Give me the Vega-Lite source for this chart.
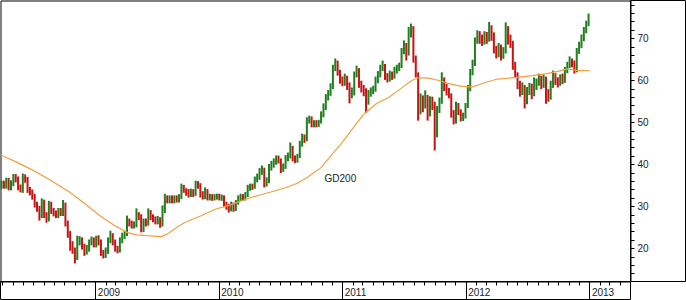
{
"$schema": "https://vega.github.io/schema/vega-lite/v6.json",
"width": 630, "height": 281,
"autosize": {"type": "none"},
"padding": {"left": 0.5, "top": 0.5, "right": 55.5, "bottom": 18.5},
"background": "white",
"config": {
  "view": {"stroke": "#000", "strokeWidth": 1},
  "axis": {"translate": 0, "domainColor": "#000", "tickColor": "#000", "labelFont": "Liberation Sans", "labelFontSize": 10, "labelColor": "#222", "grid": false, "title": null, "labelOverlap": false, "labelFlush": false}
},
"datasets": {
"px": [
{"d":"2008-03-28","o":35.0,"h":36.2,"l":34.3,"c":35.5},
{"d":"2008-04-04","o":35.5,"h":36.2,"l":34.3,"c":35.0},
{"d":"2008-04-11","o":35.0,"h":36.9,"l":34.3,"c":36.2},
{"d":"2008-04-18","o":36.2,"h":36.9,"l":33.9,"c":34.6},
{"d":"2008-04-25","o":34.6,"h":36.3,"l":33.9,"c":35.6},
{"d":"2008-05-02","o":35.6,"h":37.8,"l":34.9,"c":37.0},
{"d":"2008-05-09","o":37.0,"h":37.8,"l":35.8,"c":36.5},
{"d":"2008-05-16","o":36.5,"h":37.2,"l":33.9,"c":34.6},
{"d":"2008-05-23","o":34.6,"h":35.3,"l":33.4,"c":34.0},
{"d":"2008-05-30","o":34.0,"h":37.9,"l":33.3,"c":37.0},
{"d":"2008-06-06","o":37.0,"h":37.7,"l":35.7,"c":36.4},
{"d":"2008-06-13","o":36.4,"h":37.1,"l":33.3,"c":34.0},
{"d":"2008-06-20","o":34.0,"h":34.7,"l":32.7,"c":33.4},
{"d":"2008-06-27","o":33.4,"h":34.1,"l":31.7,"c":32.4},
{"d":"2008-07-04","o":32.4,"h":33.1,"l":29.8,"c":30.5},
{"d":"2008-07-11","o":30.5,"h":31.2,"l":28.8,"c":29.5},
{"d":"2008-07-18","o":29.5,"h":30.2,"l":26.7,"c":28.0},
{"d":"2008-07-25","o":28.0,"h":32.0,"l":27.3,"c":31.0},
{"d":"2008-08-01","o":31.0,"h":31.7,"l":27.3,"c":28.0},
{"d":"2008-08-08","o":28.0,"h":28.7,"l":26.2,"c":27.0},
{"d":"2008-08-15","o":27.0,"h":31.4,"l":26.5,"c":30.5},
{"d":"2008-08-22","o":30.5,"h":31.2,"l":28.3,"c":29.0},
{"d":"2008-08-29","o":29.0,"h":29.7,"l":27.7,"c":28.4},
{"d":"2008-09-05","o":28.4,"h":29.1,"l":27.3,"c":28.0},
{"d":"2008-09-12","o":28.0,"h":29.7,"l":27.3,"c":29.0},
{"d":"2008-09-19","o":29.0,"h":29.7,"l":27.8,"c":28.5},
{"d":"2008-09-26","o":28.5,"h":31.6,"l":27.8,"c":30.5},
{"d":"2008-10-03","o":30.5,"h":31.0,"l":25.3,"c":26.0},
{"d":"2008-10-10","o":26.0,"h":26.7,"l":22.6,"c":23.5},
{"d":"2008-10-17","o":23.5,"h":24.2,"l":19.5,"c":20.5},
{"d":"2008-10-24","o":20.5,"h":21.8,"l":18.8,"c":19.5},
{"d":"2008-10-31","o":19.5,"h":20.3,"l":16.5,"c":18.0},
{"d":"2008-11-07","o":18.0,"h":23.1,"l":17.3,"c":21.5},
{"d":"2008-11-14","o":21.5,"h":23.0,"l":20.8,"c":22.0},
{"d":"2008-11-21","o":22.0,"h":22.7,"l":19.8,"c":20.5},
{"d":"2008-11-28","o":20.5,"h":21.2,"l":18.3,"c":19.5},
{"d":"2008-12-05","o":19.5,"h":20.9,"l":18.6,"c":20.0},
{"d":"2008-12-12","o":20.0,"h":22.2,"l":19.3,"c":21.5},
{"d":"2008-12-19","o":21.5,"h":22.9,"l":20.8,"c":22.0},
{"d":"2008-12-26","o":22.0,"h":22.7,"l":20.3,"c":21.0},
{"d":"2009-01-02","o":21.0,"h":23.1,"l":20.3,"c":22.5},
{"d":"2009-01-09","o":22.5,"h":23.2,"l":20.8,"c":21.5},
{"d":"2009-01-16","o":21.5,"h":22.2,"l":18.3,"c":19.0},
{"d":"2009-01-23","o":19.0,"h":19.7,"l":17.7,"c":18.5},
{"d":"2009-01-30","o":18.5,"h":20.3,"l":17.8,"c":19.5},
{"d":"2009-02-06","o":19.5,"h":22.7,"l":18.8,"c":22.0},
{"d":"2009-02-13","o":22.0,"h":24.3,"l":21.3,"c":23.0},
{"d":"2009-02-20","o":23.0,"h":23.7,"l":20.8,"c":21.5},
{"d":"2009-02-27","o":21.5,"h":22.2,"l":19.3,"c":20.0},
{"d":"2009-03-06","o":20.0,"h":20.7,"l":18.9,"c":19.8},
{"d":"2009-03-13","o":19.8,"h":22.7,"l":19.1,"c":22.0},
{"d":"2009-03-20","o":22.0,"h":23.8,"l":21.3,"c":23.0},
{"d":"2009-03-27","o":23.0,"h":24.3,"l":22.3,"c":23.5},
{"d":"2009-04-03","o":23.5,"h":27.9,"l":23.0,"c":26.5},
{"d":"2009-04-10","o":26.5,"h":27.2,"l":25.3,"c":26.0},
{"d":"2009-04-17","o":26.0,"h":26.7,"l":24.8,"c":25.5},
{"d":"2009-04-24","o":25.5,"h":26.5,"l":24.8,"c":25.8},
{"d":"2009-05-01","o":25.8,"h":29.6,"l":25.1,"c":28.0},
{"d":"2009-05-08","o":28.0,"h":28.7,"l":26.8,"c":27.5},
{"d":"2009-05-15","o":27.5,"h":28.2,"l":23.9,"c":24.5},
{"d":"2009-05-22","o":24.5,"h":27.2,"l":24.0,"c":26.5},
{"d":"2009-05-29","o":26.5,"h":27.2,"l":25.3,"c":26.0},
{"d":"2009-06-05","o":26.0,"h":29.6,"l":25.5,"c":28.5},
{"d":"2009-06-12","o":28.5,"h":29.2,"l":26.8,"c":27.5},
{"d":"2009-06-19","o":27.5,"h":28.2,"l":26.3,"c":27.0},
{"d":"2009-06-26","o":27.0,"h":27.7,"l":25.8,"c":26.5},
{"d":"2009-07-03","o":26.5,"h":27.8,"l":25.8,"c":27.0},
{"d":"2009-07-10","o":27.0,"h":27.5,"l":25.0,"c":25.8},
{"d":"2009-07-17","o":25.8,"h":30.3,"l":25.3,"c":29.0},
{"d":"2009-07-24","o":29.0,"h":33.1,"l":28.5,"c":32.0},
{"d":"2009-07-31","o":32.0,"h":32.7,"l":30.8,"c":31.5},
{"d":"2009-08-07","o":31.5,"h":32.7,"l":30.8,"c":32.0},
{"d":"2009-08-14","o":32.0,"h":32.7,"l":30.8,"c":31.5},
{"d":"2009-08-21","o":31.5,"h":32.7,"l":30.8,"c":32.0},
{"d":"2009-08-28","o":32.0,"h":32.7,"l":31.0,"c":31.8},
{"d":"2009-09-04","o":31.8,"h":33.0,"l":31.0,"c":32.2},
{"d":"2009-09-11","o":32.2,"h":35.5,"l":31.8,"c":34.5},
{"d":"2009-09-18","o":34.5,"h":35.2,"l":33.3,"c":34.0},
{"d":"2009-09-25","o":34.0,"h":34.4,"l":32.6,"c":33.5},
{"d":"2009-10-02","o":33.5,"h":34.2,"l":32.2,"c":33.0},
{"d":"2009-10-09","o":33.0,"h":34.3,"l":32.3,"c":33.5},
{"d":"2009-10-16","o":33.5,"h":34.2,"l":32.3,"c":33.0},
{"d":"2009-10-23","o":33.0,"h":36.2,"l":32.6,"c":35.5},
{"d":"2009-10-30","o":35.5,"h":36.1,"l":34.3,"c":35.0},
{"d":"2009-11-06","o":35.0,"h":35.6,"l":32.2,"c":33.0},
{"d":"2009-11-13","o":33.0,"h":33.7,"l":31.7,"c":32.5},
{"d":"2009-11-20","o":32.5,"h":34.6,"l":31.8,"c":33.8},
{"d":"2009-11-27","o":33.8,"h":34.2,"l":31.5,"c":32.0},
{"d":"2009-12-04","o":32.0,"h":33.1,"l":31.5,"c":32.5},
{"d":"2009-12-11","o":32.5,"h":33.0,"l":31.4,"c":32.0},
{"d":"2009-12-18","o":32.0,"h":33.0,"l":31.5,"c":32.3},
{"d":"2009-12-25","o":32.3,"h":33.1,"l":31.7,"c":32.5},
{"d":"2010-01-01","o":32.5,"h":33.1,"l":31.5,"c":32.0},
{"d":"2010-01-08","o":32.0,"h":32.9,"l":31.4,"c":32.2},
{"d":"2010-01-15","o":32.2,"h":32.7,"l":29.9,"c":30.5},
{"d":"2010-01-22","o":30.5,"h":31.2,"l":29.3,"c":30.0},
{"d":"2010-01-29","o":30.0,"h":30.7,"l":28.6,"c":29.5},
{"d":"2010-02-05","o":29.5,"h":31.2,"l":28.9,"c":30.5},
{"d":"2010-02-12","o":30.5,"h":31.0,"l":28.8,"c":29.5},
{"d":"2010-02-19","o":29.5,"h":31.6,"l":29.0,"c":31.0},
{"d":"2010-02-26","o":31.0,"h":32.7,"l":30.5,"c":32.0},
{"d":"2010-03-05","o":32.0,"h":33.1,"l":31.4,"c":32.5},
{"d":"2010-03-12","o":32.5,"h":33.0,"l":31.4,"c":32.0},
{"d":"2010-03-19","o":32.0,"h":33.5,"l":31.5,"c":32.8},
{"d":"2010-03-26","o":32.8,"h":35.2,"l":32.3,"c":34.5},
{"d":"2010-04-02","o":34.5,"h":35.5,"l":33.8,"c":35.0},
{"d":"2010-04-09","o":35.0,"h":35.5,"l":34.0,"c":34.8},
{"d":"2010-04-16","o":34.8,"h":37.2,"l":34.3,"c":36.5},
{"d":"2010-04-23","o":36.5,"h":37.9,"l":35.8,"c":37.0},
{"d":"2010-04-30","o":37.0,"h":39.2,"l":36.4,"c":38.5},
{"d":"2010-05-07","o":38.5,"h":39.8,"l":37.6,"c":39.0},
{"d":"2010-05-14","o":39.0,"h":39.3,"l":34.6,"c":35.5},
{"d":"2010-05-21","o":35.5,"h":37.0,"l":34.8,"c":36.0},
{"d":"2010-05-28","o":36.0,"h":40.2,"l":35.6,"c":39.5},
{"d":"2010-06-04","o":39.5,"h":40.9,"l":38.6,"c":40.0},
{"d":"2010-06-11","o":40.0,"h":41.5,"l":39.3,"c":40.5},
{"d":"2010-06-18","o":40.5,"h":42.2,"l":40.0,"c":41.5},
{"d":"2010-06-25","o":41.5,"h":42.2,"l":40.3,"c":41.0},
{"d":"2010-07-02","o":41.0,"h":41.5,"l":38.0,"c":39.0},
{"d":"2010-07-09","o":39.0,"h":40.3,"l":38.3,"c":39.5},
{"d":"2010-07-16","o":39.5,"h":42.3,"l":39.0,"c":41.5},
{"d":"2010-07-23","o":41.5,"h":42.9,"l":40.8,"c":42.0},
{"d":"2010-07-30","o":42.0,"h":45.3,"l":41.5,"c":44.0},
{"d":"2010-08-06","o":44.0,"h":44.5,"l":40.8,"c":41.5},
{"d":"2010-08-13","o":41.5,"h":42.2,"l":40.4,"c":41.0},
{"d":"2010-08-20","o":41.0,"h":42.6,"l":40.5,"c":42.0},
{"d":"2010-08-27","o":42.0,"h":45.7,"l":41.6,"c":45.0},
{"d":"2010-09-03","o":45.0,"h":47.4,"l":44.3,"c":46.5},
{"d":"2010-09-10","o":46.5,"h":47.2,"l":45.2,"c":46.0},
{"d":"2010-09-17","o":46.0,"h":51.3,"l":45.6,"c":50.5},
{"d":"2010-09-24","o":50.5,"h":51.7,"l":49.8,"c":51.0},
{"d":"2010-10-01","o":51.0,"h":51.5,"l":48.9,"c":49.5},
{"d":"2010-10-08","o":49.5,"h":50.6,"l":48.9,"c":50.0},
{"d":"2010-10-15","o":50.0,"h":50.6,"l":48.9,"c":49.5},
{"d":"2010-10-22","o":49.5,"h":50.7,"l":49.0,"c":50.0},
{"d":"2010-10-29","o":50.0,"h":52.7,"l":49.8,"c":52.0},
{"d":"2010-11-05","o":52.0,"h":54.6,"l":51.3,"c":53.5},
{"d":"2010-11-12","o":53.5,"h":56.8,"l":53.0,"c":56.0},
{"d":"2010-11-19","o":56.0,"h":57.8,"l":55.3,"c":57.0},
{"d":"2010-11-26","o":57.0,"h":59.4,"l":56.4,"c":58.5},
{"d":"2010-12-03","o":58.5,"h":63.8,"l":58.0,"c":63.0},
{"d":"2010-12-10","o":63.0,"h":65.3,"l":62.3,"c":64.0},
{"d":"2010-12-17","o":64.0,"h":64.8,"l":61.2,"c":62.0},
{"d":"2010-12-24","o":62.0,"h":62.6,"l":59.3,"c":60.0},
{"d":"2010-12-31","o":60.0,"h":61.0,"l":58.7,"c":59.5},
{"d":"2011-01-07","o":59.5,"h":61.7,"l":58.8,"c":60.5},
{"d":"2011-01-14","o":60.5,"h":61.2,"l":57.8,"c":59.0},
{"d":"2011-01-21","o":59.0,"h":59.6,"l":54.6,"c":56.5},
{"d":"2011-01-28","o":56.5,"h":58.4,"l":55.8,"c":57.0},
{"d":"2011-02-04","o":57.0,"h":62.2,"l":56.5,"c":61.5},
{"d":"2011-02-11","o":61.5,"h":63.6,"l":60.8,"c":62.5},
{"d":"2011-02-18","o":62.5,"h":63.0,"l":58.3,"c":59.0},
{"d":"2011-02-25","o":59.0,"h":60.0,"l":57.2,"c":58.0},
{"d":"2011-03-04","o":58.0,"h":59.0,"l":56.3,"c":57.5},
{"d":"2011-03-11","o":57.5,"h":58.2,"l":52.4,"c":55.0},
{"d":"2011-03-18","o":55.0,"h":57.8,"l":54.3,"c":57.0},
{"d":"2011-03-25","o":57.0,"h":58.4,"l":56.2,"c":57.5},
{"d":"2011-04-01","o":57.5,"h":58.8,"l":56.8,"c":58.0},
{"d":"2011-04-08","o":58.0,"h":61.0,"l":57.4,"c":60.0},
{"d":"2011-04-15","o":60.0,"h":62.3,"l":59.4,"c":61.5},
{"d":"2011-04-22","o":61.5,"h":63.8,"l":60.8,"c":63.0},
{"d":"2011-04-29","o":63.0,"h":64.8,"l":62.3,"c":63.5},
{"d":"2011-05-06","o":63.5,"h":64.0,"l":60.2,"c":61.0},
{"d":"2011-05-13","o":61.0,"h":61.8,"l":59.6,"c":60.5},
{"d":"2011-05-20","o":60.5,"h":62.4,"l":59.8,"c":61.5},
{"d":"2011-05-27","o":61.5,"h":62.2,"l":60.2,"c":61.0},
{"d":"2011-06-03","o":61.0,"h":63.3,"l":60.5,"c":62.5},
{"d":"2011-06-10","o":62.5,"h":63.8,"l":61.7,"c":63.0},
{"d":"2011-06-17","o":63.0,"h":64.3,"l":62.3,"c":63.5},
{"d":"2011-06-24","o":63.5,"h":67.8,"l":63.0,"c":67.0},
{"d":"2011-07-01","o":67.0,"h":69.6,"l":66.3,"c":68.5},
{"d":"2011-07-08","o":68.5,"h":69.0,"l":64.8,"c":66.5},
{"d":"2011-07-15","o":66.5,"h":72.8,"l":66.0,"c":72.0},
{"d":"2011-07-22","o":72.0,"h":73.6,"l":70.3,"c":72.5},
{"d":"2011-07-29","o":72.5,"h":73.0,"l":64.3,"c":65.0},
{"d":"2011-08-05","o":65.0,"h":66.0,"l":60.8,"c":61.5},
{"d":"2011-08-12","o":61.5,"h":62.0,"l":50.5,"c":54.0},
{"d":"2011-08-19","o":54.0,"h":57.0,"l":52.0,"c":55.0},
{"d":"2011-08-26","o":55.0,"h":56.5,"l":52.5,"c":54.0},
{"d":"2011-09-02","o":54.0,"h":57.7,"l":53.4,"c":56.0},
{"d":"2011-09-09","o":56.0,"h":56.6,"l":50.5,"c":52.0},
{"d":"2011-09-16","o":52.0,"h":56.3,"l":51.5,"c":55.5},
{"d":"2011-09-23","o":55.5,"h":56.2,"l":53.0,"c":54.5},
{"d":"2011-09-30","o":54.5,"h":55.0,"l":43.4,"c":47.0},
{"d":"2011-10-07","o":47.0,"h":54.0,"l":46.5,"c":53.0},
{"d":"2011-10-14","o":53.0,"h":56.0,"l":52.3,"c":55.0},
{"d":"2011-10-21","o":55.0,"h":62.0,"l":54.5,"c":60.0},
{"d":"2011-10-28","o":60.0,"h":60.8,"l":57.5,"c":58.5},
{"d":"2011-11-04","o":58.5,"h":59.3,"l":56.5,"c":57.5},
{"d":"2011-11-11","o":57.5,"h":58.3,"l":55.8,"c":56.5},
{"d":"2011-11-18","o":56.5,"h":57.0,"l":51.2,"c":52.0},
{"d":"2011-11-25","o":52.0,"h":53.0,"l":49.6,"c":50.0},
{"d":"2011-12-02","o":50.0,"h":55.0,"l":49.8,"c":54.0},
{"d":"2011-12-09","o":54.0,"h":54.7,"l":51.8,"c":52.5},
{"d":"2011-12-16","o":52.5,"h":53.2,"l":50.3,"c":51.0},
{"d":"2011-12-23","o":51.0,"h":52.4,"l":50.4,"c":51.5},
{"d":"2011-12-30","o":51.5,"h":54.7,"l":51.0,"c":54.0},
{"d":"2012-01-06","o":54.0,"h":59.0,"l":53.5,"c":58.0},
{"d":"2012-01-13","o":58.0,"h":62.8,"l":57.5,"c":62.0},
{"d":"2012-01-20","o":62.0,"h":65.0,"l":61.3,"c":64.0},
{"d":"2012-01-27","o":64.0,"h":70.3,"l":63.5,"c":69.5},
{"d":"2012-02-03","o":69.5,"h":72.0,"l":68.8,"c":71.0},
{"d":"2012-02-10","o":71.0,"h":71.8,"l":68.8,"c":70.0},
{"d":"2012-02-17","o":70.0,"h":71.0,"l":68.3,"c":69.5},
{"d":"2012-02-24","o":69.5,"h":71.8,"l":68.6,"c":71.0},
{"d":"2012-03-02","o":71.0,"h":71.6,"l":68.8,"c":70.0},
{"d":"2012-03-09","o":70.0,"h":74.0,"l":69.3,"c":72.5},
{"d":"2012-03-16","o":72.5,"h":73.2,"l":69.5,"c":71.0},
{"d":"2012-03-23","o":71.0,"h":71.5,"l":66.5,"c":67.5},
{"d":"2012-03-30","o":67.5,"h":68.3,"l":65.3,"c":66.5},
{"d":"2012-04-06","o":66.5,"h":69.0,"l":65.6,"c":68.0},
{"d":"2012-04-13","o":68.0,"h":68.6,"l":64.8,"c":66.0},
{"d":"2012-04-20","o":66.0,"h":68.0,"l":65.2,"c":67.0},
{"d":"2012-04-27","o":67.0,"h":73.9,"l":66.5,"c":72.5},
{"d":"2012-05-04","o":72.5,"h":73.0,"l":68.6,"c":70.0},
{"d":"2012-05-11","o":70.0,"h":71.0,"l":67.8,"c":69.0},
{"d":"2012-05-18","o":69.0,"h":69.5,"l":62.6,"c":63.5},
{"d":"2012-05-25","o":63.5,"h":64.5,"l":60.8,"c":61.5},
{"d":"2012-06-01","o":61.5,"h":62.0,"l":58.0,"c":59.0},
{"d":"2012-06-08","o":59.0,"h":60.0,"l":56.2,"c":57.5},
{"d":"2012-06-15","o":57.5,"h":59.6,"l":56.6,"c":58.5},
{"d":"2012-06-22","o":58.5,"h":59.0,"l":53.4,"c":55.0},
{"d":"2012-06-29","o":55.0,"h":58.5,"l":54.4,"c":57.5},
{"d":"2012-07-06","o":57.5,"h":59.5,"l":56.6,"c":58.5},
{"d":"2012-07-13","o":58.5,"h":59.3,"l":55.6,"c":57.0},
{"d":"2012-07-20","o":57.0,"h":60.8,"l":56.3,"c":59.0},
{"d":"2012-07-27","o":59.0,"h":60.5,"l":57.8,"c":59.5},
{"d":"2012-08-03","o":59.5,"h":61.7,"l":58.8,"c":60.5},
{"d":"2012-08-10","o":60.5,"h":61.2,"l":58.0,"c":59.0},
{"d":"2012-08-17","o":59.0,"h":61.5,"l":58.3,"c":60.5},
{"d":"2012-08-24","o":60.5,"h":61.0,"l":54.5,"c":57.0},
{"d":"2012-08-31","o":57.0,"h":58.0,"l":55.0,"c":56.0},
{"d":"2012-09-07","o":56.0,"h":60.0,"l":55.5,"c":59.0},
{"d":"2012-09-14","o":59.0,"h":62.4,"l":58.3,"c":61.0},
{"d":"2012-09-21","o":61.0,"h":61.8,"l":59.0,"c":60.0},
{"d":"2012-09-28","o":60.0,"h":60.8,"l":58.4,"c":59.5},
{"d":"2012-10-05","o":59.5,"h":61.5,"l":58.8,"c":60.5},
{"d":"2012-10-12","o":60.5,"h":61.7,"l":59.2,"c":60.0},
{"d":"2012-10-19","o":60.0,"h":63.3,"l":59.5,"c":62.5},
{"d":"2012-10-26","o":62.5,"h":64.5,"l":61.8,"c":63.5},
{"d":"2012-11-02","o":63.5,"h":65.8,"l":63.0,"c":64.5},
{"d":"2012-11-09","o":64.5,"h":65.3,"l":63.2,"c":64.0},
{"d":"2012-11-16","o":64.0,"h":64.8,"l":61.7,"c":62.5},
{"d":"2012-11-23","o":62.5,"h":67.8,"l":62.0,"c":67.0},
{"d":"2012-11-30","o":67.0,"h":69.3,"l":66.4,"c":68.5},
{"d":"2012-12-07","o":68.5,"h":71.0,"l":67.8,"c":70.0},
{"d":"2012-12-14","o":70.0,"h":72.8,"l":69.4,"c":72.0},
{"d":"2012-12-21","o":72.0,"h":74.3,"l":71.3,"c":73.5},
{"d":"2012-12-28","o":73.5,"h":76.0,"l":73.0,"c":75.5}
],
"ma": [
{"d":"2008-03-26","v":42.3},
{"d":"2008-05-15","v":40.5},
{"d":"2008-07-01","v":38.6},
{"d":"2008-08-20","v":36.3},
{"d":"2008-10-15","v":33.5},
{"d":"2008-11-25","v":31.0},
{"d":"2009-01-12","v":27.9},
{"d":"2009-02-24","v":25.6},
{"d":"2009-04-03","v":23.9},
{"d":"2009-05-01","v":23.3},
{"d":"2009-06-01","v":23.1},
{"d":"2009-07-14","v":22.9},
{"d":"2009-08-04","v":23.7},
{"d":"2009-09-01","v":25.3},
{"d":"2009-09-20","v":26.2},
{"d":"2009-11-10","v":27.9},
{"d":"2009-12-20","v":29.4},
{"d":"2010-02-05","v":30.5},
{"d":"2010-04-04","v":32.2},
{"d":"2010-05-20","v":33.2},
{"d":"2010-07-12","v":34.4},
{"d":"2010-08-20","v":35.6},
{"d":"2010-09-19","v":37.0},
{"d":"2010-10-29","v":39.3},
{"d":"2010-12-01","v":42.5},
{"d":"2010-12-28","v":45.0},
{"d":"2011-02-01","v":48.8},
{"d":"2011-03-06","v":52.2},
{"d":"2011-04-10","v":54.5},
{"d":"2011-05-17","v":56.0},
{"d":"2011-06-25","v":58.3},
{"d":"2011-07-20","v":59.8},
{"d":"2011-08-09","v":60.7},
{"d":"2011-09-13","v":60.6},
{"d":"2011-10-15","v":60.0},
{"d":"2011-11-11","v":59.3},
{"d":"2011-12-15","v":58.7},
{"d":"2012-01-18","v":58.5},
{"d":"2012-02-20","v":59.4},
{"d":"2012-04-02","v":60.4},
{"d":"2012-06-01","v":60.8},
{"d":"2012-07-15","v":61.2},
{"d":"2012-08-27","v":61.7},
{"d":"2012-10-01","v":62.3},
{"d":"2012-10-27","v":62.8},
{"d":"2012-11-26","v":62.4},
{"d":"2012-12-31","v":62.4}
],
"lbl": [
{"d":"2010-12-25","v":36.7,"t":"GD200"}
]
},
"layer": [
{
  "data": {"name": "px"},
  "mark": {"type": "rule", "strokeWidth": 2},
  "encoding": {
    "x": {"field": "d", "type": "temporal",
      "scale": {"type": "utc", "domain": [{"year": 2008, "month": 3, "date": 25, "utc": true}, {"year": 2013, "month": 5, "date": 1, "utc": true}]},
      "axis": {"orient": "bottom", "tickCount": {"interval": "month", "step": 1}, "tickSize": 4, "labels": false, "domain": true}},
    "y": {"field": "l", "type": "quantitative",
      "scale": {"domain": [12.2, 79.1], "nice": false, "zero": false},
      "axis": {"orient": "right", "values": [14,16,18,20,22,24,26,28,30,32,34,36,38,40,42,44,46,48,50,52,54,56,58,60,62,64,66,68,70,72,74,76,78], "tickSize": 4, "labelPadding": 3, "labelExpr": "datum.value % 10 === 0 ? datum.label : ''", "domain": true}},
    "y2": {"field": "h"},
    "color": {"condition": {"test": "datum.c >= datum.o", "value": "#1f7f1f"}, "value": "#c41414"}
  }
},
{
  "data": {"name": "ma"},
  "mark": {"type": "line", "color": "#f0a040", "strokeWidth": 1.2},
  "encoding": {
    "x": {"field": "d", "type": "temporal",
      "axis": {"orient": "bottom", "offset": 18, "values": [{"year": 2008, "month": 3, "date": 25, "utc": true}, {"year": 2009, "month": 1, "date": 1, "utc": true}, {"year": 2010, "month": 1, "date": 1, "utc": true}, {"year": 2011, "month": 1, "date": 1, "utc": true}, {"year": 2012, "month": 1, "date": 1, "utc": true}, {"year": 2013, "month": 1, "date": 1, "utc": true}, {"year": 2013, "month": 5, "date": 1, "utc": true}],
        "tickSize": -18, "labelExpr": "utcFormat(datum.value, '%m-%d') === '01-01' ? utcFormat(datum.value, '%Y') : ''", "labelAlign": "left", "labelOffset": 2, "labelPadding": 14.5, "labelBaseline": "alphabetic", "labelBound": false, "domain": true}},
    "y": {"field": "v", "type": "quantitative",
      "axis": {"orient": "right", "offset": 55, "values": [12.2, 79.1], "tickSize": -55, "labels": false, "domain": true}}
  }
},
{
  "data": {"name": "lbl"},
  "mark": {"type": "text", "font": "Liberation Sans", "fontSize": 10, "color": "#222", "align": "center", "baseline": "middle"},
  "encoding": {
    "x": {"field": "d", "type": "temporal", "axis": null},
    "y": {"field": "v", "type": "quantitative", "axis": null},
    "text": {"field": "t"}
  }
}
],
"resolve": {"axis": {"x": "independent", "y": "independent"}}
}
